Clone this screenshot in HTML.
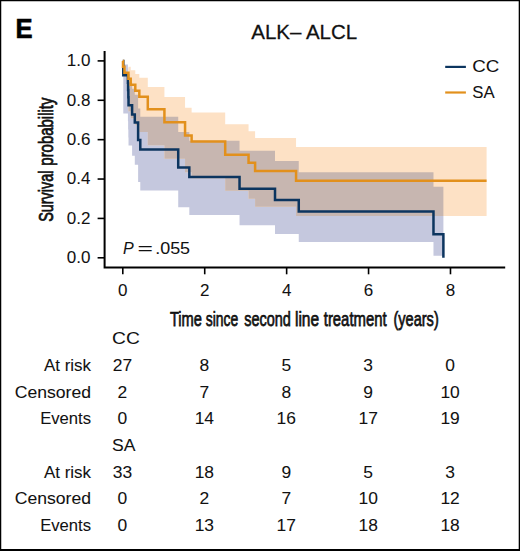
<!DOCTYPE html>
<html><head><meta charset="utf-8"><style>
html,body{margin:0;padding:0;background:#fff;}
body{width:520px;height:551px;overflow:hidden;}
svg{display:block;font-family:"Liberation Sans",sans-serif;}
text{stroke:#111;stroke-width:0.06px;}
</style></head><body>
<svg width="520" height="551" viewBox="0 0 520 551">
<path d="M0 0H520V551H0Z M1.25 1.2V549.1H518.7V1.2Z" fill="#000" fill-rule="evenodd"/>
<text transform="translate(15.6 38.2) scale(0.95 1)" font-size="27" font-weight="bold" fill="#000" style="stroke:#000;stroke-width:0.6px">E</text>
<text transform="translate(304.2 39.2) scale(1.01 1)" font-size="20.3" text-anchor="middle" fill="#111" style="stroke-width:0.25px">ALK– ALCL</text>
<defs><clipPath id="cb"><polygon points="123.29,64.47 127.92,64.47 127.92,68.23 128.12,68.23 128.12,72.39 128.33,72.39 128.33,76.96 128.53,76.96 128.53,82.48 132.1,82.48 132.1,88.86 134.8,88.86 134.8,94.73 138.12,94.73 138.12,108.53 140.29,108.53 140.29,116.74 178.22,116.74 178.22,132.1 189.32,132.1 189.32,140.76 239.54,140.76 239.54,150.77 275.01,150.77 275.01,160.95 298.76,160.95 298.76,172.16 433.48,172.16 433.48,186.8 443.4,186.8 443.4,255.64 433.48,255.64 433.48,241.91 298.76,241.91 298.76,234.1 275.01,234.1 275.01,225.21 239.54,225.21 239.54,214.95 189.32,214.95 189.32,207.16 178.22,207.16 178.22,190.59 140.29,190.59 140.29,182.11 138.12,182.11 138.12,164.76 134.8,164.76 134.8,155.65 132.1,155.65 132.1,145.61 128.53,145.61 128.53,137.51 128.33,137.51 128.33,129.42 128.12,129.42 128.12,121.17 127.92,121.17 127.92,113.44 123.29,113.44"/></clipPath></defs>
<polygon points="123.29,64.47 127.92,64.47 127.92,68.23 128.12,68.23 128.12,72.39 128.33,72.39 128.33,76.96 128.53,76.96 128.53,82.48 132.1,82.48 132.1,88.86 134.8,88.86 134.8,94.73 138.12,94.73 138.12,108.53 140.29,108.53 140.29,116.74 178.22,116.74 178.22,132.1 189.32,132.1 189.32,140.76 239.54,140.76 239.54,150.77 275.01,150.77 275.01,160.95 298.76,160.95 298.76,172.16 433.48,172.16 433.48,186.8 443.4,186.8 443.4,255.64 433.48,255.64 433.48,241.91 298.76,241.91 298.76,234.1 275.01,234.1 275.01,225.21 239.54,225.21 239.54,214.95 189.32,214.95 189.32,207.16 178.22,207.16 178.22,190.59 140.29,190.59 140.29,182.11 138.12,182.11 138.12,164.76 134.8,164.76 134.8,155.65 132.1,155.65 132.1,145.61 128.53,145.61 128.53,137.51 128.33,137.51 128.33,129.42 128.12,129.42 128.12,121.17 127.92,121.17 127.92,113.44 123.29,113.44" fill="rgb(197,200,222)"/>
<polygon points="128.41,66.86 130.71,66.86 130.71,70.21 135.29,70.21 135.29,73.9 139.31,73.9 139.31,77.85 147.79,77.85 147.79,86.92 164.42,86.92 164.42,97.01 185.06,97.01 185.06,107.69 191.61,107.69 191.61,112.6 225.2,112.6 225.2,124.28 248.55,124.28 248.55,131.16 255.1,131.16 255.1,137.92 296.06,137.92 296.06,147 486.6,147 486.6,216.03 296.06,216.03 296.06,206.86 255.1,206.86 255.1,198.7 248.55,198.7 248.55,190.78 225.2,190.78 225.2,178.32 191.61,178.32 191.61,172.19 185.06,172.19 185.06,158.7 164.42,158.7 164.42,145.19 147.79,145.19 147.79,131.91 139.31,131.91 139.31,125.17 135.29,125.17 135.29,118.28 130.71,118.28 130.71,111.3 128.41,111.3" fill="rgb(253,225,197)"/>
<polygon points="128.41,66.86 130.71,66.86 130.71,70.21 135.29,70.21 135.29,73.9 139.31,73.9 139.31,77.85 147.79,77.85 147.79,86.92 164.42,86.92 164.42,97.01 185.06,97.01 185.06,107.69 191.61,107.69 191.61,112.6 225.2,112.6 225.2,124.28 248.55,124.28 248.55,131.16 255.1,131.16 255.1,137.92 296.06,137.92 296.06,147 486.6,147 486.6,216.03 296.06,216.03 296.06,206.86 255.1,206.86 255.1,198.7 248.55,198.7 248.55,190.78 225.2,190.78 225.2,178.32 191.61,178.32 191.61,172.19 185.06,172.19 185.06,158.7 164.42,158.7 164.42,145.19 147.79,145.19 147.79,131.91 139.31,131.91 139.31,125.17 135.29,125.17 135.29,118.28 130.71,118.28 130.71,111.3 128.41,111.3" fill="rgb(199,182,176)" clip-path="url(#cb)"/>
<path d="M122.8 60.9 H123.29 V75.2 H127.92 V82.78 H128.12 V90.07 H128.33 V97.36 H128.53 V105.3 H132.1 V114.4 H134.8 V122.6 H138.12 V140.1 H140.29 V149.6 H178.22 V167.6 H189.32 V177 H239.54 V188.7 H275.01 V200 H298.76 V211.5 H433.48 V234.2 H443.39 V257.8" fill="none" stroke="#0c355f" stroke-width="2.5"/>
<path d="M122.8 60.9 H123 V66.87 H124.44 V72.83 H128.41 V78.8 H130.71 V84.77 H135.29 V90.73 H139.31 V96.7 H147.79 V109.2 H164.42 V122.2 H185.06 V135.4 H191.61 V141.4 H225.2 V154.7 H248.55 V162.8 H255.1 V171 H296.06 V180.8 H486.6" fill="none" stroke="#e2901c" stroke-width="2.5"/>
<path d="M104.6 51 V267.4 H505.2" stroke="#000" stroke-width="2" fill="none"/>
<g stroke="#000" stroke-width="1.6"><line x1="97.6" x2="104" y1="257.8" y2="257.8"/><line x1="97.6" x2="104" y1="218.42" y2="218.42"/><line x1="97.6" x2="104" y1="179.04" y2="179.04"/><line x1="97.6" x2="104" y1="139.66" y2="139.66"/><line x1="97.6" x2="104" y1="100.28" y2="100.28"/><line x1="97.6" x2="104" y1="60.9" y2="60.9"/><line x1="122.8" x2="122.8" y1="267.5" y2="274.3"/><line x1="204.72" x2="204.72" y1="267.5" y2="274.3"/><line x1="286.64" x2="286.64" y1="267.5" y2="274.3"/><line x1="368.56" x2="368.56" y1="267.5" y2="274.3"/><line x1="450.48" x2="450.48" y1="267.5" y2="274.3"/></g>
<text x="90.4" y="263.2" font-size="17" text-anchor="end" fill="#111">0.0</text><text x="90.4" y="223.82" font-size="17" text-anchor="end" fill="#111">0.2</text><text x="90.4" y="184.44" font-size="17" text-anchor="end" fill="#111">0.4</text><text x="90.4" y="145.06" font-size="17" text-anchor="end" fill="#111">0.6</text><text x="90.4" y="105.68" font-size="17" text-anchor="end" fill="#111">0.8</text><text x="90.4" y="66.3" font-size="17" text-anchor="end" fill="#111">1.0</text><text x="122.8" y="296.3" font-size="17" text-anchor="middle" fill="#111">0</text><text x="204.72" y="296.3" font-size="17" text-anchor="middle" fill="#111">2</text><text x="286.64" y="296.3" font-size="17" text-anchor="middle" fill="#111">4</text><text x="368.56" y="296.3" font-size="17" text-anchor="middle" fill="#111">6</text><text x="450.48" y="296.3" font-size="17" text-anchor="middle" fill="#111">8</text>
<text x="169.88" y="326" font-size="21" textLength="32.08" lengthAdjust="spacingAndGlyphs" fill="#111" style="stroke-width:0.75px">Time</text><text x="205.81" y="326" font-size="21" textLength="32.51" lengthAdjust="spacingAndGlyphs" fill="#111" style="stroke-width:0.75px">since</text><text x="244.2" y="326" font-size="21" textLength="46.64" lengthAdjust="spacingAndGlyphs" fill="#111" style="stroke-width:0.75px">second</text><text x="294.94" y="326" font-size="21" textLength="24.25" lengthAdjust="spacingAndGlyphs" fill="#111" style="stroke-width:0.75px">line</text><text x="323.76" y="326" font-size="21" textLength="62.86" lengthAdjust="spacingAndGlyphs" fill="#111" style="stroke-width:0.75px">treatment</text><text x="393.5" y="326" font-size="21" textLength="45.22" lengthAdjust="spacingAndGlyphs" fill="#111" style="stroke-width:0.75px">(years)</text>
<g transform="translate(53.4 0) rotate(-90)"><text x="-221.86" y="0" font-size="21" textLength="51.22" lengthAdjust="spacingAndGlyphs" fill="#111" style="stroke-width:0.75px">Survival</text><text x="-165.66" y="0" font-size="21" textLength="68.09" lengthAdjust="spacingAndGlyphs" fill="#111" style="stroke-width:0.75px">probability</text></g>
<line x1="445.2" x2="465.9" y1="66.9" y2="66.9" stroke="#0c355f" stroke-width="2.2"/>
<line x1="445.2" x2="465.9" y1="92.5" y2="92.5" stroke="#e2901c" stroke-width="2.2"/>
<text transform="translate(472.2 72.2) scale(1.17 1)" font-size="16" fill="#111">CC</text>
<text transform="translate(472.3 97.5) scale(1.03 1)" font-size="16.3" fill="#111">SA</text>
<text x="123" y="254.1" font-size="16" font-style="italic" fill="#111">P</text>
<text transform="translate(137.4 254.1) scale(1.65 1)" font-size="16" fill="#111">=</text>
<text transform="translate(155.2 254.1) scale(1.12 1)" font-size="16" fill="#111">.055</text>
<text transform="translate(112.1 344.3) scale(1.2 1)" font-size="16" fill="#111">CC</text><text transform="translate(91 370.9) scale(1.06 1)" font-size="16" text-anchor="end" fill="#111">At risk</text><text transform="translate(122.4 370.9) scale(1.09 1)" font-size="16" text-anchor="middle" fill="#111">27</text><text transform="translate(204.32 370.9) scale(1.09 1)" font-size="16" text-anchor="middle" fill="#111">8</text><text transform="translate(286.24 370.9) scale(1.09 1)" font-size="16" text-anchor="middle" fill="#111">5</text><text transform="translate(368.16 370.9) scale(1.09 1)" font-size="16" text-anchor="middle" fill="#111">3</text><text transform="translate(450.08 370.9) scale(1.09 1)" font-size="16" text-anchor="middle" fill="#111">0</text><text transform="translate(91 397.5) scale(1.1 1)" font-size="16" text-anchor="end" fill="#111">Censored</text><text transform="translate(122.4 397.5) scale(1.09 1)" font-size="16" text-anchor="middle" fill="#111">2</text><text transform="translate(204.32 397.5) scale(1.09 1)" font-size="16" text-anchor="middle" fill="#111">7</text><text transform="translate(286.24 397.5) scale(1.09 1)" font-size="16" text-anchor="middle" fill="#111">8</text><text transform="translate(368.16 397.5) scale(1.09 1)" font-size="16" text-anchor="middle" fill="#111">9</text><text transform="translate(450.08 397.5) scale(1.09 1)" font-size="16" text-anchor="middle" fill="#111">10</text><text transform="translate(91 424.1) scale(1.04 1)" font-size="16" text-anchor="end" fill="#111">Events</text><text transform="translate(122.4 424.1) scale(1.09 1)" font-size="16" text-anchor="middle" fill="#111">0</text><text transform="translate(204.32 424.1) scale(1.09 1)" font-size="16" text-anchor="middle" fill="#111">14</text><text transform="translate(286.24 424.1) scale(1.09 1)" font-size="16" text-anchor="middle" fill="#111">16</text><text transform="translate(368.16 424.1) scale(1.09 1)" font-size="16" text-anchor="middle" fill="#111">17</text><text transform="translate(450.08 424.1) scale(1.09 1)" font-size="16" text-anchor="middle" fill="#111">19</text><text transform="translate(112.1 451) scale(1.1 1)" font-size="16" fill="#111">SA</text><text transform="translate(91 477.6) scale(1.06 1)" font-size="16" text-anchor="end" fill="#111">At risk</text><text transform="translate(122.4 477.6) scale(1.09 1)" font-size="16" text-anchor="middle" fill="#111">33</text><text transform="translate(204.32 477.6) scale(1.09 1)" font-size="16" text-anchor="middle" fill="#111">18</text><text transform="translate(286.24 477.6) scale(1.09 1)" font-size="16" text-anchor="middle" fill="#111">9</text><text transform="translate(368.16 477.6) scale(1.09 1)" font-size="16" text-anchor="middle" fill="#111">5</text><text transform="translate(450.08 477.6) scale(1.09 1)" font-size="16" text-anchor="middle" fill="#111">3</text><text transform="translate(91 504.2) scale(1.1 1)" font-size="16" text-anchor="end" fill="#111">Censored</text><text transform="translate(122.4 504.2) scale(1.09 1)" font-size="16" text-anchor="middle" fill="#111">0</text><text transform="translate(204.32 504.2) scale(1.09 1)" font-size="16" text-anchor="middle" fill="#111">2</text><text transform="translate(286.24 504.2) scale(1.09 1)" font-size="16" text-anchor="middle" fill="#111">7</text><text transform="translate(368.16 504.2) scale(1.09 1)" font-size="16" text-anchor="middle" fill="#111">10</text><text transform="translate(450.08 504.2) scale(1.09 1)" font-size="16" text-anchor="middle" fill="#111">12</text><text transform="translate(91 530.8) scale(1.04 1)" font-size="16" text-anchor="end" fill="#111">Events</text><text transform="translate(122.4 530.8) scale(1.09 1)" font-size="16" text-anchor="middle" fill="#111">0</text><text transform="translate(204.32 530.8) scale(1.09 1)" font-size="16" text-anchor="middle" fill="#111">13</text><text transform="translate(286.24 530.8) scale(1.09 1)" font-size="16" text-anchor="middle" fill="#111">17</text><text transform="translate(368.16 530.8) scale(1.09 1)" font-size="16" text-anchor="middle" fill="#111">18</text><text transform="translate(450.08 530.8) scale(1.09 1)" font-size="16" text-anchor="middle" fill="#111">18</text>
</svg>
</body></html>
